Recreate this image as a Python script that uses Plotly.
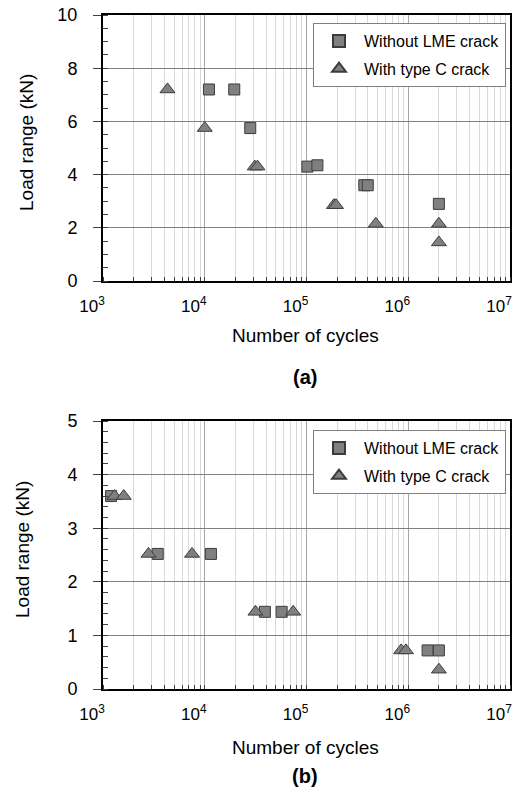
import plotly.graph_objects as go

# ---- data (a) ----
a_sq_x = [1.1e4, 1.95e4, 2.8e4, 1.02e5, 1.28e5, 3.7e5, 4.0e5, 2.0e6]
a_sq_y = [7.2, 7.2, 5.75, 4.3, 4.35, 3.6, 3.6, 2.9]
a_tr_x = [4.3e3, 1.0e4, 3.1e4, 3.3e4, 1.86e5, 1.95e5, 4.8e5, 2.0e6, 2.0e6]
a_tr_y = [7.2, 5.75, 4.3, 4.3, 2.85, 2.85, 2.15, 2.15, 1.45]

# ---- data (b) ----
b_sq_x = [1.2e3, 3.45e3, 1.15e4, 3.9e4, 5.7e4, 1.55e6, 2.0e6]
b_sq_y = [3.6, 2.52, 2.52, 1.44, 1.44, 0.72, 0.72]
b_tr_x = [1.3e3, 1.6e3, 2.8e3, 7.5e3, 3.15e4, 7.4e4, 8.5e5, 9.5e5, 2.0e6]
b_tr_y = [3.6, 3.6, 2.52, 2.52, 1.44, 1.44, 0.72, 0.72, 0.36]

x_tickvals = [1e3, 1e4, 1e5, 1e6, 1e7]
x_ticktext = ["10<sup>3</sup>", "10<sup>4</sup>", "10<sup>5</sup>", "10<sup>6</sup>", "10<sup>7</sup>"]
series_names = ["Without LME crack", "With type C crack"]
x_title = "Number of cycles"
y_title = "Load range (kN)"
captions = ["<b>(a)</b>", "<b>(b)</b>"]

FILL = "#808080"
EDGE = "#3c3c3c"
FONT = "Liberation Sans, Arial, sans-serif"

fig = go.Figure()

def add(x, y, sym, size, name, xa, ya, leg, grp):
    fig.add_trace(go.Scatter(
        x=x, y=y, mode="markers", name=name, xaxis=xa, yaxis=ya, legend=leg,
        legendgroup=grp,
        marker=dict(symbol=sym, size=size, color=FILL, line=dict(color=EDGE, width=1)),
    ))

add(a_sq_x, a_sq_y, "square", 11, series_names[0], "x", "y", "legend", "a1")
add(a_tr_x, a_tr_y, "triangle-up", 13, series_names[1], "x", "y", "legend", "a2")
add(b_sq_x, b_sq_y, "square", 11, series_names[0], "x2", "y2", "legend2", "b1")
add(b_tr_x, b_tr_y, "triangle-up", 13, series_names[1], "x2", "y2", "legend2", "b2")

W, H = 513, 795
X0, X1 = 103, 510
xdom = [X0 / W, X1 / W]
ydom_a = [1 - 281 / H, 1 - 15 / H]
ydom_b = [1 - 689 / H, 1 - 421 / H]

def xaxis(anchor):
    return dict(
        type="log", range=[3, 7], domain=xdom, anchor=anchor, automargin=False,
        tickvals=x_tickvals, ticktext=x_ticktext, ticklabelstandoff=9, ticklabelshift=-11,
        ticklabeloverflow="allow",
        showline=True, mirror=True, linecolor="black", linewidth=2,
        ticks="", showgrid=True, gridcolor="#a6a6a6", gridwidth=1.3,
        minor=dict(dtick="D1", showgrid=True, gridcolor="#d9d9d9", gridwidth=1.3,
                   ticks="inside", ticklen=4, tickcolor="#404040"),
        tickfont=dict(size=17, color="black", family=FONT),
        zeroline=False,
    )

def yaxis(anchor, dom, top, dt, minor_dt):
    return dict(
        range=[0, top], domain=dom, anchor=anchor, dtick=dt, automargin=False,
        showline=True, mirror=True, linecolor="black", linewidth=2,
        ticks="outside", ticklen=8, tickcolor="#404040", ticklabelstandoff=12,
        ticklabeloverflow="allow",
        showgrid=True, gridcolor="#808080", gridwidth=1.3,
        minor=dict(dtick=minor_dt, ticks="inside", ticklen=5, tickcolor="#404040", showgrid=False),
        tickfont=dict(size=18, color="black", family=FONT),
        zeroline=False,
    )

legend_common = dict(
    bgcolor="white", bordercolor="#808080", borderwidth=1,
    font=dict(size=16, color="black", family=FONT),
    xanchor="right", yanchor="top", itemsizing="constant", tracegroupgap=4,
    itemwidth=40,
)

title_font = dict(size=19, color="black", family=FONT)

def ann(text, x, y, angle=0, font=title_font):
    return dict(text=text, x=x / W, y=1 - y / H, xref="paper", yref="paper",
                showarrow=False, textangle=angle, font=font, xanchor="center", yanchor="middle")

cap_font = dict(size=20, color="black", family=FONT)

fig.update_layout(
    width=W, height=H, margin=dict(l=0, r=0, t=0, b=0),
    paper_bgcolor="white", plot_bgcolor="white",
    xaxis=xaxis("y"), yaxis=yaxis("x", ydom_a, 10, 2, 0.5),
    xaxis2=xaxis("y2"), yaxis2=yaxis("x2", ydom_b, 5, 1, 0.2),
    legend=dict(x=506 / W, y=1 - 23 / H, **legend_common),
    legend2=dict(x=506 / W, y=1 - 430 / H, **legend_common),
    annotations=[
        ann(y_title, 27, 143, -90),
        ann(y_title, 22, 550, -90),
        ann(x_title, 305, 335),
        ann(x_title, 305, 747),
        ann(captions[0], 305, 377, font=cap_font),
        ann(captions[1], 305, 776, font=cap_font),
    ],
)

fig.write_html("out.html", config={"displayModeBar": False},
               post_script="document.body.style.margin='0px';document.body.style.overflow='hidden';")
